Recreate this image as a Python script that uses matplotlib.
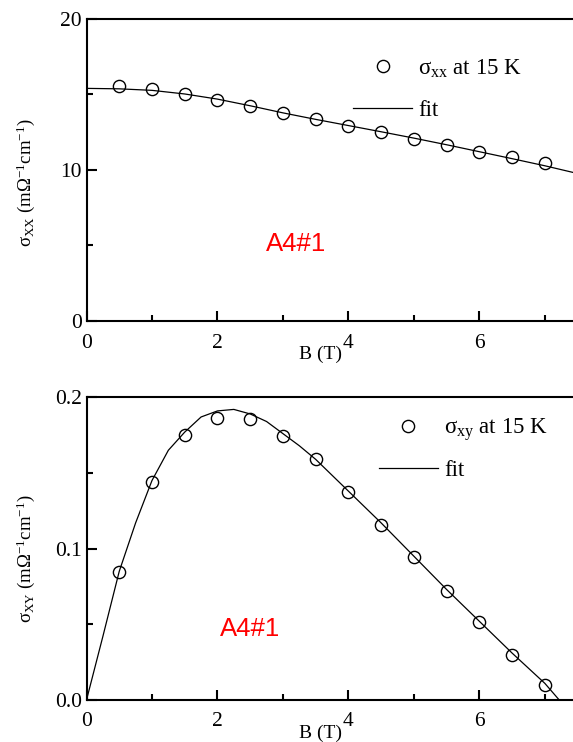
import numpy as np
import matplotlib
matplotlib.use("Agg")
import matplotlib.pyplot as plt
from matplotlib.ticker import MultipleLocator
from matplotlib.lines import Line2D

plt.rcParams['font.family'] = ['Liberation Serif', 'DejaVu Serif']
plt.rcParams['mathtext.fontset'] = 'custom'
plt.rcParams['mathtext.rm'] = 'Liberation Serif'
plt.rcParams['mathtext.it'] = 'Liberation Serif'
plt.rcParams['mathtext.bf'] = 'Liberation Serif'
plt.rcParams['mathtext.default'] = 'rm'

# measured points, B in tesla
b_data = [0.5, 1.0, 1.5, 2.0, 2.5, 3.0, 3.5, 4.0, 4.5, 5.0, 5.5, 6.0, 6.5, 7.0]
sxx_data = [15.56, 15.32, 14.99, 14.62, 14.20, 13.78, 13.36, 12.90, 12.48,
            12.04, 11.62, 11.20, 10.85, 10.47]
sxy_data = [0.0844, 0.1443, 0.1753, 0.1865, 0.1857, 0.1744, 0.1590, 0.1374,
            0.1158, 0.0945, 0.0722, 0.0515, 0.0295, 0.0101]

# fit curves
b_fit_xx = [0, 0.5, 1.0, 1.5, 2.0, 2.5, 3.0, 3.5, 4.0, 4.5, 5.0, 5.5, 6.0, 6.5, 7.0, 7.43]
sxx_fit = [15.39, 15.36, 15.26, 15.02, 14.68, 14.24, 13.77, 13.34, 12.93, 12.52,
           12.10, 11.66, 11.20, 10.74, 10.27, 9.83]
b_fit_xy = [0, 0.25, 0.5, 0.75, 1.0, 1.25, 1.5, 1.75, 2.0, 2.25, 2.5, 2.75, 3.0,
            3.25, 3.5, 4.0, 4.5, 5.0, 5.5, 6.0, 6.5, 7.0, 7.22]
sxy_fit = [0.0, 0.042, 0.085, 0.117, 0.145, 0.165, 0.177, 0.187, 0.191, 0.192,
           0.189, 0.184, 0.176, 0.168, 0.159, 0.138, 0.117, 0.095, 0.073, 0.052,
           0.031, 0.011, 0.0]

W, H = 573, 742
fig = plt.figure(figsize=(W / 100, H / 100), dpi=100)

def px_axes(left, top, bottom):
    return fig.add_axes([left / W, 1 - bottom / H, (W - left) / W, (bottom - top) / H])

ax1 = px_axes(86.5, 18.7, 321.0)
ax2 = px_axes(86.5, 397.3, 700.0)


def style(ax, ymax, ymaj, ymin, fmt):
    ax.set_xlim(0, 7.43)
    ax.set_ylim(0, ymax)
    ax.xaxis.set_major_locator(MultipleLocator(2))
    ax.xaxis.set_minor_locator(MultipleLocator(1))
    ax.yaxis.set_major_locator(MultipleLocator(ymaj))
    ax.yaxis.set_minor_locator(MultipleLocator(ymin))
    ax.yaxis.set_major_formatter(fmt)
    ax.tick_params(which='both', direction='in', top=False, right=False, width=1.5)
    ax.tick_params(which='major', length=7.5, labelsize=15.5)
    ax.tick_params(which='minor', length=4)
    ax.tick_params(axis='x', which='major', pad=9)
    ax.tick_params(axis='y', which='major', pad=3.5)
    ax.spines['right'].set_visible(False)
    for s in ['left', 'bottom', 'top']:
        ax.spines[s].set_linewidth(1.5)
    ax.text(0.482, -0.11, 'B (T)', transform=ax.transAxes, ha='center',
            va='center', fontsize=14)


style(ax1, 20, 10, 5, '{x:.0f}')
style(ax2, 0.2, 0.1, 0.05, '{x:.1f}')

for ax, bf, yf, yd, ysub, ylab_y, txt_xy in [
        (ax1, b_fit_xx, sxx_fit, sxx_data, 'XX', 0.456, (0.430, 0.255)),
        (ax2, b_fit_xy, sxy_fit, sxy_data, 'XY', 0.466, (0.337, 0.236))]:
    ax.plot(bf, yf, color='black', lw=0.9)
    ax.plot(b_data, yd, 'o', mfc='none', mec='black', ms=8.8, mew=1.0)
    ax.text(-0.124, ylab_y, 'σ$_{%s}$ (mΩ$^{-1}$cm$^{-1}$)' % ysub,
            transform=ax.transAxes, rotation=90, ha='center', va='center',
            fontsize=13.5)
    ax.text(txt_xy[0], txt_xy[1], 'A4#1', transform=ax.transAxes, color='red',
            family='Liberation Sans', fontsize=18.5, ha='center', va='center')

handles1 = [Line2D([], [], ls='none', marker='o', mfc='none', mec='black', ms=8.8, mew=1.0),
            Line2D([], [], color='black', lw=0.9)]
leg_kw = dict(frameon=False, fontsize=16.5, handlelength=2.58, handletextpad=0.26,
              borderpad=0, borderaxespad=0, loc='upper left')
ax1.legend(handles1, ['σ$_{xx}$ at 15 K', 'fit'], bbox_to_anchor=(0.548, 0.872),
           labelspacing=0.89, **leg_kw)
ax2.legend(handles1, ['σ$_{xy}$ at 15 K', 'fit'], bbox_to_anchor=(0.601, 0.937),
           labelspacing=0.72, **leg_kw)

fig.savefig('out.png', dpi=100)
